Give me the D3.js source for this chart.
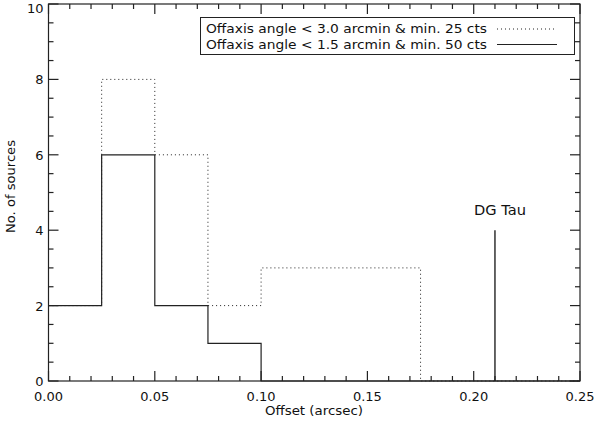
<!DOCTYPE html>
<html>
<head>
<meta charset="utf-8">
<script src="https://cdn.jsdelivr.net/npm/d3@7"></script>
<style>
  body { margin: 0; background: #fff; }
  text { font-family: "DejaVu Sans", sans-serif; fill: #111; }
</style>
</head>
<body>
<script>
// bin edges (arcsec) and counts
var binEdges    = [0, 0.025, 0.05, 0.075, 0.1, 0.125, 0.15, 0.175, 0.2, 0.225, 0.25];
var counts30    = [2, 8, 6, 2, 3, 3, 3, 0, 0, 0];
var counts15    = [2, 6, 2, 1, 0, 0, 0, 0, 0, 0];
var xTicks      = [0, 0.05, 0.10, 0.15, 0.20, 0.25];
var yTicks      = [0, 2, 4, 6, 8, 10];
var legendNames = ["Offaxis angle < 3.0 arcmin & min. 25 cts",
                   "Offaxis angle < 1.5 arcmin & min. 50 cts"];
var dgTau       = { x: 0.21, n: 4, name: "DG Tau" };

var W = 594, H = 425;
var m = { left: 48.5, right: 14, top: 4, bottom: 44 };

var svg = d3.select("body").append("svg").attr("width", W).attr("height", H);

var x = d3.scaleLinear().domain([0, 0.25]).range([m.left, W - m.right]);
var y = d3.scaleLinear().domain([0, 10]).range([H - m.bottom, m.top]);

var ink = "#222";

// histogram outline as a step path
function stepLine(counts)
{
    var pts = [];
    for (var i = 0; i < counts.length; i++)
    {
        pts.push([binEdges[i], counts[i]]);
        pts.push([binEdges[i + 1], counts[i]]);
    }
    return d3.line().x(function(d){ return x(d[0]); }).y(function(d){ return y(d[1]); })(pts);
}

svg.append("path").attr("d", stepLine(counts30))
    .attr("fill", "none").attr("stroke", ink).attr("stroke-width", 1)
    .attr("stroke-dasharray", "1,3");

svg.append("path").attr("d", stepLine(counts15))
    .attr("fill", "none").attr("stroke", ink).attr("stroke-width", 1.2);

// DG Tau marker
svg.append("line")
    .attr("x1", x(dgTau.x)).attr("x2", x(dgTau.x))
    .attr("y1", y(0)).attr("y2", y(dgTau.n))
    .attr("stroke", ink).attr("stroke-width", 1.4);
svg.append("text").attr("x", x(dgTau.x) - 21).attr("y", y(dgTau.n) - 15)
    .attr("font-size", 14.5).attr("textLength", 52).attr("lengthAdjust", "spacingAndGlyphs")
    .text(dgTau.name);

// axes with inward ticks on all four sides
function drawAxes()
{
    var g = svg.append("g").attr("stroke", ink).attr("stroke-width", 1.2);
    g.append("rect").attr("x", x(0)).attr("y", y(10))
        .attr("width", x(0.25) - x(0)).attr("height", y(0) - y(10))
        .attr("fill", "none");

    var xMinor = d3.range(0, 0.2501, 0.01);
    var yMinor = d3.range(0, 10.01, 0.5);

    xMinor.forEach(function(v)
    {
        var major = xTicks.some(function(t){ return Math.abs(t - v) < 1e-6; });
        var len = major ? 10 : 5;
        g.append("line").attr("x1", x(v)).attr("x2", x(v)).attr("y1", y(0)).attr("y2", y(0) - len);
        g.append("line").attr("x1", x(v)).attr("x2", x(v)).attr("y1", y(10)).attr("y2", y(10) + len);
    });
    yMinor.forEach(function(v)
    {
        var major = yTicks.indexOf(v) >= 0;
        var len = major ? 10 : 5;
        g.append("line").attr("y1", y(v)).attr("y2", y(v)).attr("x1", x(0)).attr("x2", x(0) + len);
        g.append("line").attr("y1", y(v)).attr("y2", y(v)).attr("x1", x(0.25)).attr("x2", x(0.25) - len);
    });

    svg.selectAll(".xt").data(xTicks).enter().append("text")
        .attr("x", function(d){ return x(d); }).attr("y", y(0) + 19.5)
        .attr("text-anchor", "middle").attr("font-size", 13)
        .text(function(d){ return d.toFixed(2); });

    svg.selectAll(".yt").data(yTicks).enter().append("text")
        .attr("x", x(0) - 5).attr("y", function(d){ return Math.max(y(d) + 5, 13); })
        .attr("text-anchor", "end").attr("font-size", 13)
        .text(function(d){ return d; });

    svg.append("text").attr("x", 265).attr("y", 415)
        .attr("font-size", 12).attr("textLength", 98).attr("lengthAdjust", "spacingAndGlyphs")
        .text("Offset (arcsec)");
    svg.append("text").attr("transform", "translate(15,233) rotate(-90)")
        .attr("font-size", 12).attr("textLength", 93).attr("lengthAdjust", "spacingAndGlyphs")
        .text("No. of sources");
}
drawAxes();

// legend
var lg = svg.append("g");
lg.append("rect").attr("x", 200.5).attr("y", 17.5).attr("width", 374).attr("height", 37)
    .attr("fill", "#fff").attr("stroke", ink).attr("stroke-width", 1);
legendNames.forEach(function(name, i)
{
    var yy = 29 + i * 15.5;
    lg.append("text").attr("x", 206).attr("y", yy + 4).attr("font-size", 12)
        .attr("textLength", 281).attr("lengthAdjust", "spacingAndGlyphs").text(name);
    lg.append("line").attr("x1", 497).attr("x2", 557).attr("y1", yy).attr("y2", yy)
        .attr("stroke", ink).attr("stroke-width", 1)
        .attr("stroke-dasharray", i == 0 ? "1,3" : null);
});
</script>
</body>
</html>
